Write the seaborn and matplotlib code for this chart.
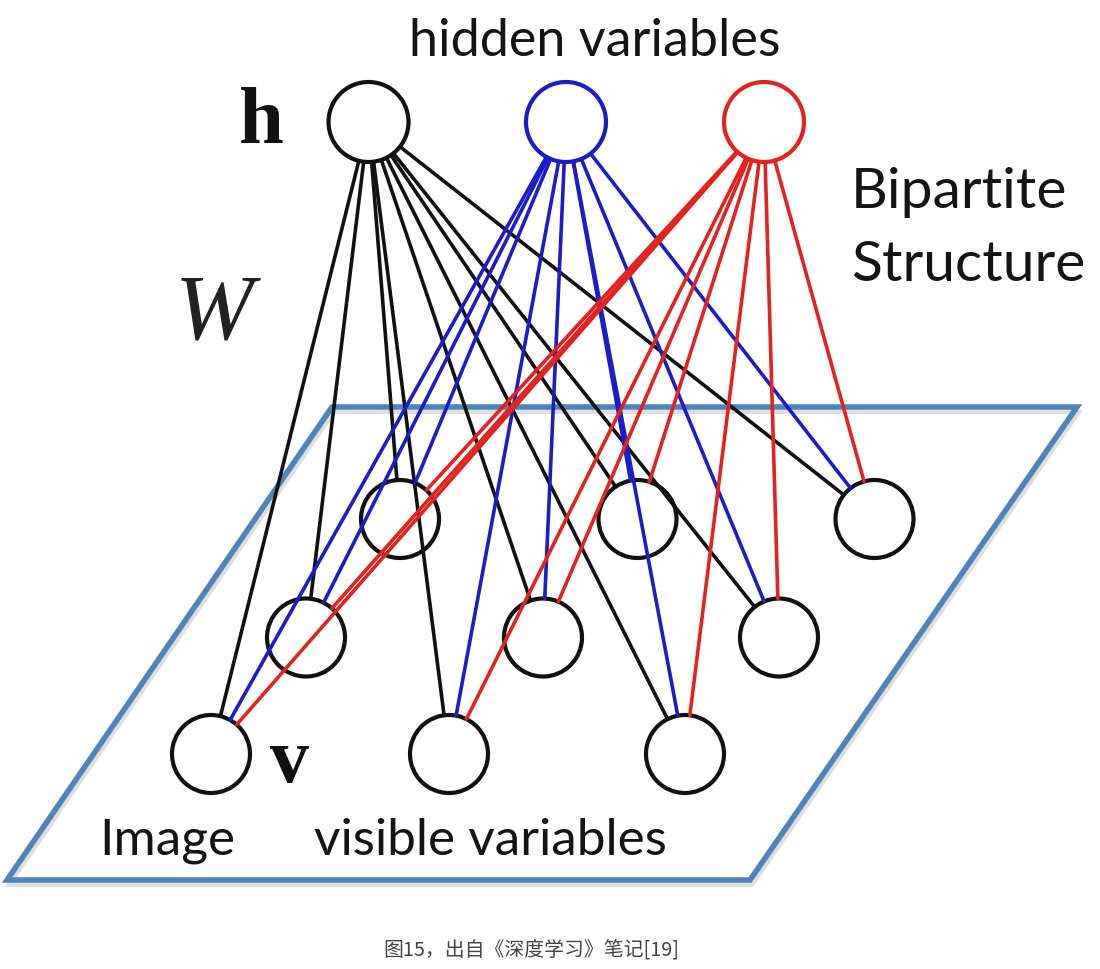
import numpy as np
import pandas as pd
import matplotlib
matplotlib.use("Agg")
import matplotlib.pyplot as plt
from matplotlib.patches import Circle, Polygon
import seaborn as sns

# ---- diagram data (pixel coordinates of the reference layout) ----
hidden_x = [368.5, 566.0, 764.0]
hidden_y = [122.0, 122.0, 122.0]
hidden_colors = ["#111111", "#1c1cc8", "#e2231f"]

visible_x = [400.0, 637.5, 874.5, 306.0, 543.0, 779.0, 211.0, 449.0, 685.0]
visible_y = [519.0, 519.0, 519.0, 637.5, 637.5, 637.5, 754.0, 754.0, 754.0]

plane_x = [332.0, 1077.0, 750.0, 7.0]
plane_y = [407.0, 407.0, 880.0, 880.0]

R_HID = 40.0
R_VIS = 39.0

sns.set_theme(style="white")
plt.rcParams["font.family"] = ["Lato", "DejaVu Sans"]

fig = plt.figure(figsize=(11.0, 9.69), dpi=100)
ax = fig.add_axes([0, 0, 1, 1])
ax.set_xlim(0, 1100)
ax.set_ylim(969, 0)
ax.set_aspect("equal")
ax.axis("off")

# plane (parallelogram) with faint shadow
shadow = Polygon(np.column_stack([np.array(plane_x) + 2, np.array(plane_y) + 5]), closed=True,
                 fill=False, edgecolor="#c8c8c8", lw=3.0, alpha=0.6, joinstyle="miter", zorder=0)
ax.add_patch(shadow)
plane = Polygon(np.column_stack([plane_x, plane_y]), closed=True, fill=False,
                edgecolor="#4f84bb", lw=4.0, joinstyle="miter", zorder=1)
ax.add_patch(plane)

# edges (bipartite connections), clipped at circle boundaries
rows = []
eid = 0
for h, (hx, hy) in enumerate(zip(hidden_x, hidden_y)):
    for vx, vy in zip(visible_x, visible_y):
        d = np.array([vx - hx, vy - hy])
        d = d / np.linalg.norm(d)
        sx, sy = hx + R_HID * d[0], hy + R_HID * d[1]
        ex, ey = vx - R_VIS * d[0], vy - R_VIS * d[1]
        rows.append({"x": sx, "y": sy, "hid": h, "edge": eid, "o": 0})
        rows.append({"x": ex, "y": ey, "hid": h, "edge": eid, "o": 1})
        eid += 1
edges = pd.DataFrame(rows)
for h in range(len(hidden_x)):
    sub = edges[edges["hid"] == h]
    sns.lineplot(data=sub, x="x", y="y", units="edge", estimator=None, sort=False,
                 color=hidden_colors[h], lw=2.6, legend=False, ax=ax, zorder=3)

# nodes
for hx, hy, c in zip(hidden_x, hidden_y, hidden_colors):
    ax.add_patch(Circle((hx, hy), R_HID, fill=False, edgecolor=c, lw=3.0, zorder=4))
for vx, vy in zip(visible_x, visible_y):
    ax.add_patch(Circle((vx, vy), R_VIS, fill=False, edgecolor="#111111", lw=3.0, zorder=2))

ax.set_xlim(0, 1100)
ax.set_ylim(969, 0)
ax.set_xlabel("")
ax.set_ylabel("")

# labels
txt = "#141414"
ax.text(595, 56, "hidden variables", fontsize=37.5, color=txt, ha="center", va="baseline")
ax.text(851, 208, "Bipartite", fontsize=41, color=txt, ha="left", va="baseline")
ax.text(851, 281, "Structure", fontsize=41, color=txt, ha="left", va="baseline")
ax.text(99, 855, "Image", fontsize=37, color=txt, ha="left", va="baseline")
ax.text(314, 855, "visible variables", fontsize=37, color=txt, ha="left", va="baseline")
ax.text(261, 143, "h", fontsize=58, fontweight="bold", color="#111111", ha="center", va="baseline",
        family=["Liberation Serif", "DejaVu Serif"])
ax.text(289, 782, "v", fontsize=56, fontweight="bold", color="#111111", ha="center", va="baseline",
        family=["Liberation Serif", "DejaVu Serif"])
ax.text(214, 338, "W", fontsize=68, fontstyle="italic", color="#222222", ha="center", va="baseline",
        family=["Liberation Serif", "DejaVu Serif"])

ax.text(531, 950, "图15，出自《深度学习》笔记[19]", fontsize=14.3, color="#444444", ha="center", va="center",
        family=["Noto Sans CJK SC", "DejaVu Sans"])

fig.savefig("out.png", dpi=100, facecolor="white")
